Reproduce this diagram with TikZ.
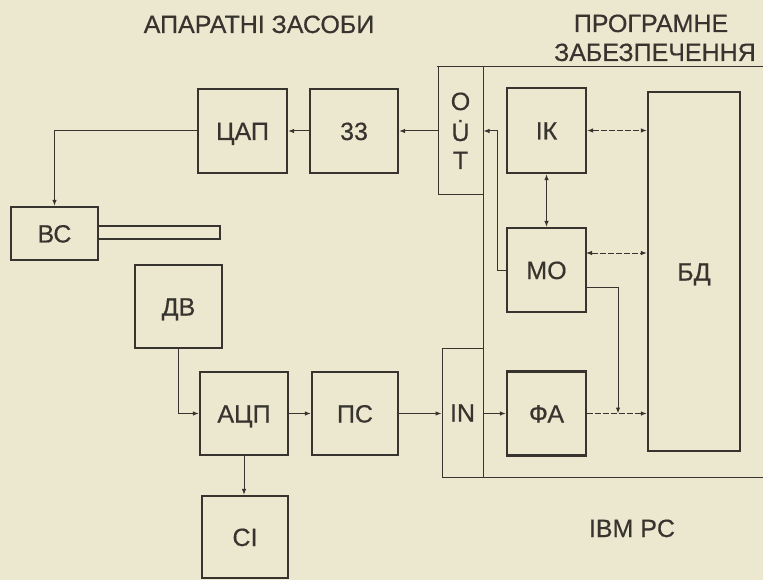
\documentclass[tikz,border=0pt]{standalone}
\usepackage{fontspec}
\setmainfont{Liberation Sans}
\newfontfamily\inkfont{Liberation Sans}[FakeBold=0.5]
\usetikzlibrary{arrows.meta}
\definecolor{paper}{RGB}{236,231,207}
\definecolor{ink}{RGB}{55,52,47}
\begin{document}
\begin{tikzpicture}[x=1pt,y=-1pt,
  txt/.style={text=ink,font=\inkfont\fontsize{25}{28}\selectfont,text height=18pt,text depth=0pt},
  blk/.style={txt,draw=ink,line width=2.2pt,inner sep=0pt},
  thinbox/.style={txt,draw=ink,line width=1pt,inner sep=0pt},
  lbl/.style={txt,inner sep=0pt},
  conn/.style={draw=ink,line width=1pt},
  tip/.tip={Latex[length=6pt,width=4.5pt]},
  arr/.style={conn,-tip},
  darr/.style={conn,tip-tip},
  dsh/.style={dash pattern=on 6pt off 2pt}]
\useasboundingbox (0,0) rectangle (763,580);
\fill[paper] (0,0) rectangle (763,580);

% titles
\node[lbl] (t1) at (259,24) {АПАРАТНІ ЗАСОБИ};
\node[lbl] (t2) at (651,23) {ПРОГРАМНЕ};
\node[lbl] (t3) at (655,52) {ЗАБЕЗПЕЧЕННЯ};
\node[lbl] (t4) at (632,528) {IBM PC};

% IBM PC frame
\draw[conn] (437,67) -- (763,67);
\draw[conn] (483,67) -- (483,477);
\draw[conn] (442,477) -- (763,477);

% interface boxes
\node[thinbox,minimum width=45pt,minimum height=128pt] (out) at (460.5,131) {};
\node[lbl] (o1) at (460.5,101) {O};
\node[lbl] (o2) at (460.5,132) {\.{U}};
\node[lbl] (o3) at (460.5,160) {T};
\node[thinbox,minimum width=41pt,minimum height=129pt] (in) at (462.5,412.5) {IN};

% hardware blocks
\node[blk,minimum width=89pt,minimum height=84pt] (dac) at (242.5,131) {ЦАП};
\node[blk,minimum width=88pt,minimum height=84pt] (zz) at (354,131) {33};
\node[blk,minimum width=87pt,minimum height=53pt] (bc) at (54.5,233.5) {ВС};
\draw[ink,line width=2pt] (98,226) -- (220,226) -- (220,239) -- (98,239);
\node[blk,minimum width=87pt,minimum height=83pt] (dv) at (178.5,306.5) {ДВ};
\node[blk,minimum width=88pt,minimum height=83pt] (adc) at (244,413.5) {АЦП};
\node[blk,minimum width=86pt,minimum height=83pt] (ps) at (355,413.5) {ПС};
\node[blk,minimum width=86pt,minimum height=82pt] (ci) at (245,537) {СІ};

% software blocks
\node[blk,minimum width=79pt,minimum height=85pt] (ik) at (546.5,130.5) {ІК};
\node[blk,minimum width=79pt,minimum height=84pt] (mo) at (546.5,270) {МО};
\node[blk,minimum width=79pt,minimum height=84pt] (fa) at (546.5,413.5) {ФА};
\node[blk,minimum width=92pt,minimum height=359pt] (bd) at (694,271.5) {БД};

% connectors
\draw[arr] (out.west) -- (zz.east);
\draw[arr] (zz.west) -- (dac.east);
\draw[arr] (dac.west) -| (bc.north);
\draw[arr] (dv.south) |- (adc.west);
\draw[arr] (adc.east) -- (ps.west);
\draw[arr] (ps.east) -- (ps.east -| in.west);
\draw[arr] (in.east |- fa.west) -- (fa.west);
\draw[arr] (adc.south) -- (adc.south |- ci.north);
\draw[arr,dsh] (fa.east) -- (fa.east -| bd.west);
\coordinate (mj) at (618,287);
\coordinate (j) at (618,413.5);
\draw[arr] (mo.east |- mj) -- (mj) -- (j);
\draw[darr,dsh] (ik.east) -- (ik.east -| bd.west);
\coordinate (mb) at (586,253);
\draw[darr,dsh] (mb) -- (mb -| bd.west);
\draw[darr] (ik.south) -- (mo.north);
\coordinate (lk) at (497,131);
\draw[arr] (mo.west) -| (lk) -- (out.east);
\end{tikzpicture}
\end{document}
